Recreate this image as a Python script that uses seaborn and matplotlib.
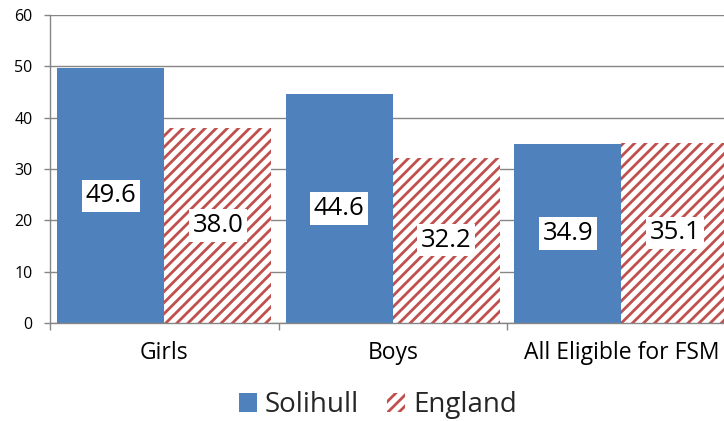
import matplotlib
matplotlib.use("Agg")
import matplotlib.pyplot as plt
import seaborn as sns
import pandas as pd
from matplotlib.patches import Patch

categories = ["Girls", "Boys", "All Eligible for FSM"]
series_names = ["Solihull", "England"]
solihull = [49.6, 44.6, 34.9]
england = [38.0, 32.2, 35.1]
yticks = [0, 10, 20, 30, 40, 50, 60]

BLUE = "#4F81BD"
RED = "#C0504D"
GRID = "#868686"

sns.set_theme(style="white")
plt.rcParams["font.family"] = ["Open Sans", "DejaVu Sans"]
plt.rcParams["hatch.linewidth"] = 2.0

df = pd.DataFrame({
    "category": categories * 2,
    "series": [series_names[0]] * 3 + [series_names[1]] * 3,
    "value": solihull + england,
})

fig = plt.figure(figsize=(7.24, 4.21), dpi=100)
ax = fig.add_axes([50 / 724, 98 / 421, 685.5 / 724, 308 / 421])

sns.barplot(data=df, x="category", y="value", hue="series",
            palette=[BLUE, "white"], width=0.937, gap=0, ax=ax,
            legend=False, errorbar=None, saturation=1)

for p in ax.containers[0]:
    p.set_linewidth(0)
for p in ax.containers[1]:
    p.set_facecolor("white")
    p.set_edgecolor(RED)
    p.set_hatch("///")
    p.set_linewidth(0)

for c in ax.containers:
    ax.bar_label(c, fmt="%.1f", label_type="center", fontsize=18.5,
                 color="black",
                 bbox=dict(facecolor="white", edgecolor="none", pad=2.5))

ax.set_ylim(0, 60)
ax.set_xlim(-0.5, 2.5)
ax.set_yticks(yticks)
ax.set_yticklabels([str(v) for v in yticks])
ax.yaxis.grid(True, color=GRID, linewidth=1)
ax.set_axisbelow(True)
ax.set_xlabel("")
ax.set_ylabel("")

for s in ["top", "right"]:
    ax.spines[s].set_visible(False)
for s in ["left", "bottom"]:
    ax.spines[s].set_color(GRID)
    ax.spines[s].set_linewidth(1)

ax.tick_params(axis="y", which="major", left=True, length=4.5, width=1,
               color=GRID, pad=8, labelsize=11.5, labelcolor="black")
ax.set_xticks([0, 1, 2])
ax.set_xticklabels(categories)
ax.set_xticks([-0.5, 0.5, 1.5, 2.5], minor=True)
ax.tick_params(axis="x", which="major", bottom=True, length=0, pad=13,
               labelsize=16.5, labelcolor="black")
ax.tick_params(axis="x", which="minor", bottom=True, length=5, width=1,
               color=GRID)

handles = [Patch(facecolor=BLUE, edgecolor="none", linewidth=0),
           Patch(facecolor="white", edgecolor=RED, hatch="///", linewidth=0)]
fig.legend(handles, series_names, loc="center", bbox_to_anchor=(378 / 724, 16 / 421),
           ncol=2, frameon=False, fontsize=20, handlelength=0.65,
           handleheight=0.65, handletextpad=0.3, columnspacing=1.0)

fig.savefig("out.png", dpi=100)
